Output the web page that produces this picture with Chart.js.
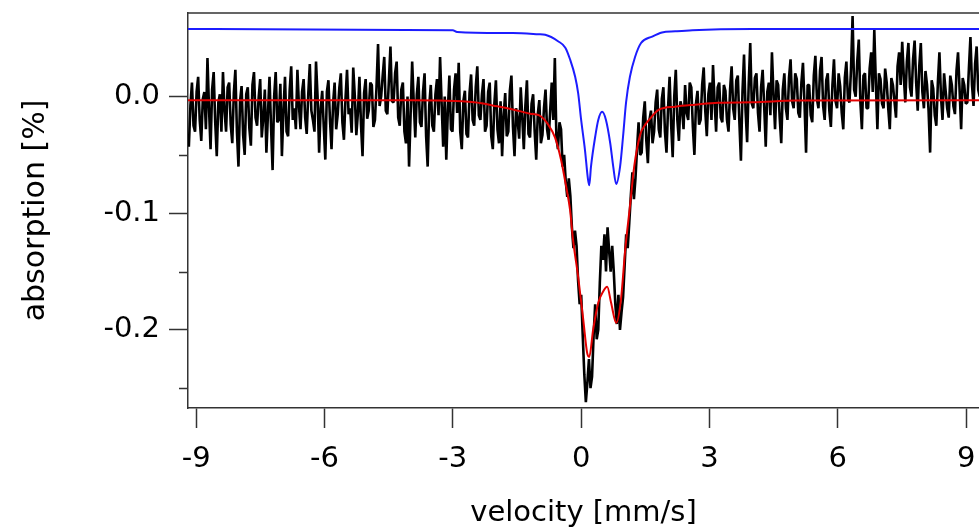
<!DOCTYPE html>
<html>
<head>
<meta charset="utf-8">
<script src="https://cdn.jsdelivr.net/npm/chart.js@4/dist/chart.umd.min.js"></script>
<style>
  html, body { margin: 0; padding: 0; background: #fff; }
  #wrap { width: 979px; height: 531px; position: relative; }
</style>
</head>
<body>
<div id="wrap"><canvas id="spectrum"></canvas></div>
<script>
// ===== Data, absorption in %
// channel calibration of the measured spectrum (512 channels)
const V0 = -9.17;
const DV = 0.03625;

// measured absorption, one value per channel
const ABSORPTION = [
  -0.043, -0.008, 0.012, -0.025, -0.030, 0.004, 0.017, -0.020, -0.038, -0.002,
  0.004, -0.028, 0.033, -0.010, -0.045, 0.006, 0.021, -0.022, -0.051, -0.005,
  0.002, -0.030, 0.021, -0.012, -0.030, 0.008, 0.012, -0.024, -0.040, 0.003,
  0.023, -0.030, -0.060, -0.004, 0.009, -0.033, -0.050, 0.002, 0.008, -0.027,
  -0.042, 0.010, 0.021, -0.018, -0.025, -0.001, 0.015, -0.035, -0.018, 0.006,
  -0.048, -0.015, 0.017, -0.026, -0.063, 0.000, 0.021, -0.022, -0.020, 0.011,
  -0.051, -0.012, 0.017, -0.030, -0.034, 0.005, 0.026, -0.020, -0.010, -0.028,
  0.023, -0.008, -0.028, 0.004,

  0.015, -0.018, -0.032, 0.002, 0.028, -0.012, -0.020, -0.030, 0.030, 0.000,
  -0.048, -0.010, 0.005, -0.026, -0.054, 0.004, 0.014, -0.020, -0.045, -0.006,
  0.012, -0.028, -0.015, 0.007, 0.020, -0.022, -0.037, -0.002, 0.023, -0.015,
  -0.010, -0.031, 0.025, 0.001, -0.033, -0.014, 0.017, -0.024, -0.051, 0.003,
  0.015, -0.019, -0.012, 0.012, 0.010, -0.026, -0.020, 0.008, 0.045, -0.008,
  0.000, 0.018, 0.034, -0.012, -0.015, 0.014, 0.043, -0.004, -0.005, 0.020,
  0.030, -0.018, -0.025, 0.006, 0.012, -0.030, -0.040, 0.000, -0.060, -0.015,
  0.030, -0.004, -0.035, 0.002,

  0.017, -0.022, -0.026, 0.004, 0.020, -0.034, -0.060, -0.008, 0.010, -0.025,
  -0.030, 0.002, 0.015, -0.016, 0.034, -0.006, -0.043, 0.000, -0.054, -0.012,
  0.018, -0.028, -0.030, 0.006, 0.020, -0.014, 0.029, -0.030, -0.045, -0.004,
  0.005, -0.032, -0.035, 0.003, 0.019, -0.020, -0.025, 0.008, 0.026, -0.016,
  -0.020, 0.002, 0.015, -0.030, -0.025, 0.004, 0.012, -0.034, -0.045, -0.006,
  0.014, -0.028, -0.040, -0.004, -0.051, -0.016, 0.003, -0.034, -0.030, 0.005,
  0.018, -0.026, -0.051, -0.010, -0.020, -0.036, 0.008, -0.018, -0.045, -0.008,
  0.014, -0.032, -0.035, -0.006,

  0.002, -0.030, -0.054, -0.015, -0.003, -0.040, -0.033, -0.010, 0.006, -0.028,
  -0.037, -0.012, 0.012, -0.020, 0.033, -0.035, -0.045, -0.022, -0.028, -0.060,
  -0.050, -0.072, -0.086, -0.070, -0.085, -0.112, -0.130, -0.115, -0.128, -0.158,
  -0.178, -0.170, -0.205, -0.238, -0.262, -0.245, -0.225, -0.250, -0.240, -0.205,
  -0.178, -0.208, -0.200, -0.160, -0.128, -0.140, -0.118, -0.150, -0.112, -0.132,
  -0.150, -0.128, -0.150, -0.178, -0.195, -0.170, -0.200, -0.185, -0.172, -0.145,
  -0.118, -0.130, -0.108, -0.085, -0.065, -0.088, -0.070, -0.045, -0.022, -0.050,
  -0.048, -0.018, -0.004, -0.038,

  -0.057, -0.020, -0.012, -0.040, -0.030, -0.005, 0.006, -0.028, -0.035, -0.002,
  0.008, -0.030, -0.048, -0.010, 0.017, -0.024, -0.052, 0.000, 0.023, -0.020,
  -0.038, -0.004, -0.010, -0.028, 0.010, -0.014, -0.020, 0.012, 0.008, -0.026,
  -0.050, -0.006, 0.005, -0.024, -0.020, 0.010, 0.025, -0.012, -0.034, 0.002,
  0.012, -0.020, 0.027, -0.004, -0.030, 0.008, 0.012, -0.018, -0.022, 0.010,
  0.005, -0.020, -0.030, 0.006, 0.026, -0.010, -0.020, 0.014, 0.018, -0.022,
  -0.055, 0.004, 0.036, -0.012, -0.039, 0.010, 0.046, -0.006, -0.010, 0.016,
  0.020, -0.014, -0.030, 0.008,

  0.023, -0.008, -0.043, 0.004, 0.012, -0.016, 0.038, 0.002, -0.028, 0.014,
  0.010, -0.018, -0.040, 0.006, 0.020, -0.010, -0.020, 0.016, 0.032, -0.004,
  -0.010, 0.020, 0.015, -0.014, -0.018, 0.012, 0.029, -0.006, -0.048, 0.010,
  0.010, -0.016, -0.022, 0.018, 0.035, -0.002, -0.010, 0.022, 0.034, -0.008,
  -0.020, 0.014, 0.020, -0.012, -0.026, 0.010, 0.032, -0.004, -0.010, 0.020,
  0.009, -0.014, -0.028, 0.016, 0.030, -0.002, -0.005, 0.024, 0.069, 0.006,
  0.000, 0.030, 0.049, -0.004, -0.028, 0.018, 0.020, -0.010, -0.010, 0.024,
  0.038, 0.004,

  0.057, 0.012, -0.028, 0.020, 0.015, -0.006, -0.010, 0.024, 0.012, -0.010,
  -0.028, 0.016, 0.010, -0.004, -0.018, 0.026, 0.038, 0.010, 0.047, 0.018,
  -0.005, 0.030, 0.046, 0.008, 0.000, 0.032, 0.048, 0.012, -0.012, 0.026,
  0.046, 0.004, -0.010, 0.022, 0.010, -0.012, -0.048, 0.014, 0.007, -0.016,
  -0.025, 0.012, 0.038, 0.000, -0.020, 0.020, 0.005, -0.010, -0.018, 0.018,
  0.010, -0.008, -0.015, 0.022, 0.038, 0.006, -0.028, 0.016, 0.010, -0.006,
  -0.005, 0.024, 0.051, 0.010, -0.008, 0.028, 0.043, 0.006, 0.000, 0.020
];

// total fit (red)
const FIT_V = [-9.19, -4.0, -2.5, -1.96, -1.57, -1.19, -0.99, -0.77, -0.61, -0.47,
  -0.35, -0.26, -0.19, -0.07, 0.05, 0.14, 0.19, 0.28, 0.40, 0.51,
  0.61, 0.70, 0.82, 0.93, 1.03, 1.14, 1.24, 1.38, 1.50, 1.59,
  1.82, 2.2, 2.66, 3.2, 4.0, 5.0, 9.3];
const FIT_Y = [-0.0032, -0.0032, -0.0049, -0.0083, -0.0112, -0.0146, -0.0159, -0.024, -0.0352, -0.0541,
  -0.0773, -0.097, -0.1227, -0.1545, -0.1914, -0.2197, -0.2232, -0.200, -0.1768, -0.1674,
  -0.1631, -0.1768, -0.194, -0.1742, -0.1313, -0.0944, -0.0601, -0.0326, -0.024, -0.0197,
  -0.0112, -0.0086, -0.0069, -0.0052, -0.0049, -0.0034, -0.0032];

// doublet sub-spectrum (blue, shifted up)
const SUB_V = [-9.19, -3.0, -2.9, -1.6, -1.0, -0.84, -0.54, -0.37, -0.26, -0.14,
  -0.07, 0.0, 0.09, 0.16, 0.19, 0.23, 0.33, 0.40, 0.49, 0.58,
  0.68, 0.75, 0.82, 0.91, 0.98, 1.05, 1.14, 1.26, 1.40, 1.66,
  1.89, 2.2, 2.6, 4.0, 9.3];
const SUB_Y = [0.058, 0.057, 0.0555, 0.0545, 0.0535, 0.053, 0.0475, 0.042, 0.032, 0.017,
  0.003, -0.020, -0.046, -0.071, -0.076, -0.060, -0.034, -0.020, -0.013, -0.020,
  -0.040, -0.060, -0.075, -0.060, -0.034, -0.005, 0.017, 0.034, 0.046, 0.0515,
  0.055, 0.056, 0.057, 0.058, 0.058];

// axes
const X_TICKS = [-9, -6, -3, 0, 3, 6, 9];
const Y_TICKS = [-0.2, -0.1, 0.0];
const Y_MINOR = [-0.25, -0.15, -0.05];
const X_RANGE = [-9.19, 9.30];
const Y_RANGE = [-0.267, 0.0717];

// ===== Styles
const INK = '#000';
const AXIS = '#333';
const FONT = 'DejaVu Sans';

const pts = (xs, ys) => xs.map((x, i) => ({ x, y: ys[i] }));
const measured = ABSORPTION.map((y, i) => ({ x: V0 + i * DV, y }));

// top edge of the frame and short minor ticks on the left axis
const frame = {
  id: 'frame',
  afterDraw(chart) {
    const { ctx, chartArea: a, scales: { y } } = chart;
    ctx.save();
    ctx.strokeStyle = AXIS;
    ctx.lineWidth = 1.5;
    ctx.beginPath();
    ctx.moveTo(a.left, a.top);
    ctx.lineTo(a.right, a.top);
    Y_MINOR.forEach(v => {
      const p = Math.round(y.getPixelForValue(v)) + 0.5;
      ctx.moveTo(a.left - 9, p);
      ctx.lineTo(a.left, p);
    });
    ctx.stroke();
    ctx.restore();
  }
};

new Chart(document.getElementById('spectrum'), {
  type: 'line',
  data: {
    datasets: [
      {
        label: 'fit',
        data: pts(FIT_V, FIT_Y),
        borderColor: '#e30000',
        borderWidth: 2,
        pointRadius: 0,
        cubicInterpolationMode: 'monotone'
      },
      {
        label: 'doublet',
        data: pts(SUB_V, SUB_Y),
        borderColor: '#1c1cff',
        borderWidth: 2,
        pointRadius: 0,
        cubicInterpolationMode: 'monotone'
      },
      {
        label: 'data',
        data: measured,
        borderColor: INK,
        borderWidth: 2.6,
        borderJoinStyle: 'bevel',
        pointRadius: 0,
        tension: 0
      }
    ]
  },
  options: {
    responsive: true,
    maintainAspectRatio: false,
    animation: false,
    layout: { padding: { top: 13, right: 0, left: 0, bottom: 0 } },
    plugins: { legend: { display: false }, tooltip: { enabled: false } },
    scales: {
      x: {
        type: 'linear',
        min: X_RANGE[0],
        max: X_RANGE[1],
        // keep the plot box where it is in the original
        afterFit: s => { s.height = 123; s.paddingLeft = 0; s.paddingRight = 0; },
        afterBuildTicks: s => { s.ticks = X_TICKS.map(value => ({ value })); },
        grid: { drawOnChartArea: false, drawTicks: true, tickLength: 20, tickColor: AXIS, tickWidth: 1.5 },
        border: { display: true, color: AXIS, width: 1.5 },
        ticks: {
          color: INK,
          padding: 14,
          maxRotation: 0,
          font: { family: FONT, size: 29 },
          callback: v => String(v)
        },
        title: {
          display: true,
          text: 'velocity [mm/s]',
          color: INK,
          font: { family: FONT, size: 29 },
          padding: { top: 0, bottom: 0 }
        }
      },
      y: {
        min: Y_RANGE[0],
        max: Y_RANGE[1],
        afterFit: s => { s.width = 188; s.paddingTop = 0; s.paddingBottom = 0; },
        afterBuildTicks: s => { s.ticks = Y_TICKS.map(value => ({ value })); },
        grid: { drawOnChartArea: false, drawTicks: true, tickLength: 19, tickColor: AXIS, tickWidth: 1.5 },
        border: { display: true, color: AXIS, width: 1.5 },
        ticks: {
          color: INK,
          padding: 9,
          font: { family: FONT, size: 29 },
          callback: v => v.toFixed(1)
        },
        title: {
          display: true,
          text: 'absorption [%]',
          color: INK,
          font: { family: FONT, size: 30 },
          padding: { top: 18, bottom: 0 }
        }
      }
    }
  },
  plugins: [frame]
});
</script>
</body>
</html>
